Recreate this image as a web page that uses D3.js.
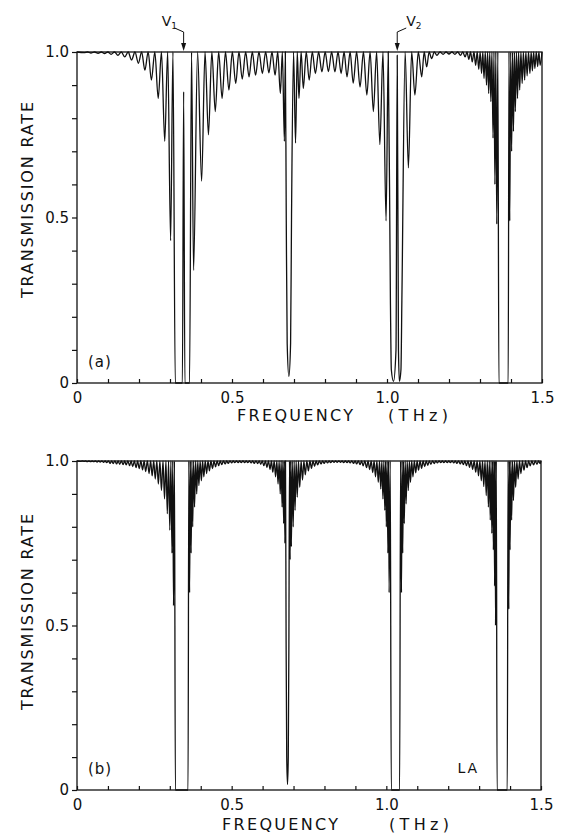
<!DOCTYPE html>
<html>
<head>
<meta charset="utf-8">
<script src="https://cdn.jsdelivr.net/npm/d3@7"></script>
<style>
body { margin: 0; background: #fff; }
svg text { font-family: "DejaVu Sans", sans-serif; fill: #111; }
.curve { fill: none; stroke: #111; stroke-width: 1.3; }
.frame { fill: none; stroke: #111; stroke-width: 1.3; }
.axis path { display: none; }
.axis line { stroke: #111; stroke-width: 1.2; }
.axis text { font-size: 15px; font-family: "DejaVu Sans", sans-serif; }
</style>
</head>
<body>
<div id="chart"></div>
<script>
var width = 568, height = 833;

// axis ticks (THz and transmission rate)
var xTicks = [0, 0.1, 0.2, 0.3, 0.4, 0.5, 0.6, 0.7, 0.8, 0.9, 1.0, 1.1, 1.2, 1.3, 1.4, 1.5];
var xLabels = {"0.0": "0", "0.5": "0.5", "1.0": "1.0", "1.5": "1.5"};
var yTicks = [0, 0.1, 0.2, 0.3, 0.4, 0.5, 0.6, 0.7, 0.8, 0.9, 1.0];
var yLabels = {"0.0": "0", "0.5": "0.5", "1.0": "1.0"};

// panel (a): fringe minima
var aDipF = [0.023, 0.045, 0.068, 0.089, 0.110, 0.132, 0.154, 0.176, 0.198, 0.219, 0.240, 0.262, 0.283, 0.302,
    0.376, 0.402, 0.424, 0.446, 0.468, 0.490, 0.512, 0.533, 0.555, 0.576, 0.598, 0.619, 0.639, 0.656, 0.669,
    0.705, 0.716, 0.730, 0.749, 0.769, 0.790, 0.811, 0.832, 0.852, 0.871, 0.891, 0.913, 0.935, 0.956, 0.977, 0.997,
    1.069, 1.090, 1.112, 1.128, 1.144, 1.161, 1.181, 1.200, 1.219, 1.237, 1.252, 1.264, 1.275, 1.286, 1.296, 1.305,
    1.313, 1.321, 1.328, 1.335, 1.342, 1.348, 1.354,
    1.396, 1.402, 1.408, 1.414, 1.421, 1.428, 1.436, 1.444, 1.452, 1.461, 1.469, 1.477, 1.486, 1.494];
var aDipT = [0.998, 0.997, 0.996, 0.995, 0.993, 0.990, 0.985, 0.976, 0.966, 0.945, 0.915, 0.86, 0.73, 0.43,
    0.34, 0.61, 0.75, 0.82, 0.86, 0.885, 0.905, 0.918, 0.925, 0.93, 0.935, 0.937, 0.93, 0.875, 0.73,
    0.725, 0.86, 0.89, 0.915, 0.935, 0.94, 0.941, 0.94, 0.935, 0.925, 0.906, 0.894, 0.87, 0.82, 0.72, 0.49,
    0.65, 0.87, 0.925, 0.955, 0.98, 0.99, 0.993, 0.994, 0.993, 0.99, 0.985, 0.978, 0.97, 0.96, 0.948, 0.935,
    0.92, 0.90, 0.875, 0.85, 0.74, 0.60, 0.48,
    0.49, 0.70, 0.76, 0.82, 0.86, 0.885, 0.905, 0.915, 0.928, 0.935, 0.943, 0.95, 0.956, 0.96];
// panel (a): stop bands, with the defect modes V1 and V2 inside
var aGapF = [[0.317, 0.340, 0.344, 0.348, 0.363],
    [0.675, 0.678, 0.6835, 0.689, 0.692],
    [1.011, 1.014, 1.021, 1.029, 1.033, 1.037, 1.040, 1.045, 1.048],
    [1.361, 1.391]];
var aGapT = [[0, 0, 0.88, 0, 0],
    [0.5, 0.12, 0.02, 0.12, 0.5],
    [0.25, 0.04, 0.005, 0.1, 0.99, 0.1, 0.005, 0.04, 0.25],
    [0, 0]];
var defectF = [0.344, 1.033];
var defectSub = ["1", "2"];

// panel (b): fringe minima
var bDipF = [0.012, 0.023, 0.033, 0.044, 0.054, 0.065, 0.075, 0.086, 0.096, 0.107, 0.117, 0.128, 0.138, 0.149,
    0.159, 0.170, 0.180, 0.191, 0.201, 0.212, 0.222, 0.233, 0.243, 0.253, 0.263, 0.273, 0.283, 0.292, 0.300, 0.307, 0.312,
    0.364, 0.369, 0.374, 0.380, 0.387, 0.394, 0.402, 0.410, 0.419, 0.428, 0.438, 0.448, 0.458, 0.468, 0.479, 0.489,
    0.500, 0.510, 0.521, 0.531, 0.542, 0.552, 0.563, 0.573, 0.584, 0.594, 0.604, 0.614, 0.624, 0.633, 0.642, 0.650,
    0.657, 0.663, 0.668, 0.672,
    0.689, 0.693, 0.699, 0.705, 0.712, 0.720, 0.729, 0.738, 0.748, 0.758, 0.768, 0.778, 0.789, 0.799, 0.810, 0.820,
    0.831, 0.841, 0.852, 0.862, 0.873, 0.883, 0.894, 0.904, 0.915, 0.925, 0.936, 0.946, 0.956, 0.965, 0.974, 0.982,
    0.989, 0.995, 1.000, 1.005, 1.009,
    1.049, 1.053, 1.058, 1.064, 1.071, 1.078, 1.086, 1.095, 1.104, 1.114, 1.124, 1.134, 1.144, 1.155, 1.165, 1.176,
    1.186, 1.197, 1.207, 1.218, 1.228, 1.239, 1.249, 1.259, 1.269, 1.279, 1.289, 1.298, 1.307, 1.315, 1.323, 1.330,
    1.336, 1.341, 1.346, 1.350, 1.353,
    1.396, 1.400, 1.405, 1.411, 1.418, 1.426, 1.435, 1.445, 1.455, 1.465, 1.476, 1.487, 1.497];
var bDipT = [0.999, 0.999, 0.998, 0.998, 0.998, 0.997, 0.997, 0.996, 0.995, 0.993, 0.992, 0.991, 0.990, 0.989,
    0.988, 0.986, 0.983, 0.980, 0.977, 0.973, 0.968, 0.962, 0.955, 0.945, 0.930, 0.910, 0.885, 0.840, 0.790, 0.720, 0.560,
    0.60, 0.72, 0.80, 0.86, 0.90, 0.925, 0.94, 0.952, 0.962, 0.970, 0.977, 0.982, 0.986, 0.989, 0.991, 0.993,
    0.994, 0.995, 0.995, 0.995, 0.995, 0.995, 0.994, 0.993, 0.992, 0.990, 0.986, 0.981, 0.975, 0.966, 0.952, 0.930,
    0.900, 0.860, 0.810, 0.750,
    0.70, 0.74, 0.80, 0.85, 0.89, 0.92, 0.942, 0.958, 0.970, 0.978, 0.984, 0.988, 0.991, 0.993, 0.994, 0.995,
    0.996, 0.996, 0.996, 0.995, 0.995, 0.994, 0.993, 0.991, 0.989, 0.985, 0.980, 0.974, 0.965, 0.952, 0.935, 0.915,
    0.885, 0.850, 0.800, 0.720, 0.600,
    0.60, 0.72, 0.81, 0.87, 0.91, 0.935, 0.952, 0.964, 0.972, 0.978, 0.983, 0.987, 0.990, 0.992, 0.994, 0.995,
    0.995, 0.995, 0.995, 0.994, 0.993, 0.991, 0.989, 0.986, 0.981, 0.975, 0.966, 0.955, 0.940, 0.922, 0.895, 0.860,
    0.820, 0.780, 0.730, 0.620, 0.500,
    0.55, 0.73, 0.82, 0.88, 0.92, 0.945, 0.962, 0.972, 0.980, 0.985, 0.988, 0.990, 0.992];
// panel (b): stop bands
var bGapF = [[0.318, 0.359], [0.676, 0.678, 0.6805, 0.683, 0.685], [1.016, 1.043], [1.358, 1.391]];
var bGapT = [[0, 0], [0.45, 0.1, 0.017, 0.1, 0.45], [0, 0], [0, 0]];

var svg = d3.select("#chart").append("svg")
    .attr("width", width)
    .attr("height", height);

// each minimum (or stop band) is one group; the curve climbs back to 1 between groups
function buildCurve(dipF, dipT, gapF, gapT) {
    var groups = dipF.map(function(f, i) { return [[f, dipT[i]]]; });
    gapF.forEach(function(g, i) {
        groups.push(g.map(function(f, j) { return [f, gapT[i][j]]; }));
    });
    groups.sort(function(a, b) { return a[0][0] - b[0][0]; });
    var pts = [[xTicks[0], 1]];
    groups.forEach(function(g, i) {
        if (i > 0) {
            var prev = groups[i-1];
            pts.push([(prev[prev.length-1][0] + g[0][0]) / 2, 1]);
        }
        pts = pts.concat(g);
    });
    pts.push([xTicks[xTicks.length-1], 1]);
    return pts;
}

function drawPanel(p) {
    var x = d3.scaleLinear().domain([0, 1.5]).range([p.left, p.right]);
    var y = d3.scaleLinear().domain([0, 1]).range([p.bottom, p.top]);
    var g = svg.append("g");

    var line = d3.line()
        .x(function(d) { return x(d[0]); })
        .y(function(d) { return y(d[1]); })
        .curve(d3.curveMonotoneX);

    g.append("path")
        .attr("class", "curve")
        .attr("d", line(buildCurve(p.dipF, p.dipT, p.gapF, p.gapT)));

    g.append("rect")
        .attr("class", "frame")
        .attr("x", x(0))
        .attr("y", y(1))
        .attr("width", x(1.5) - x(0))
        .attr("height", y(0) - y(1));

    g.append("g")
        .attr("class", "axis")
        .attr("transform", "translate(0," + y(0) + ")")
        .call(d3.axisBottom(x).tickValues(xTicks).tickSize(-4).tickPadding(9)
            .tickFormat(function(d) { return xLabels[d.toFixed(1)] || ""; }));

    g.append("g")
        .attr("class", "axis")
        .attr("transform", "translate(" + x(0) + ",0)")
        .call(d3.axisLeft(y).tickValues(yTicks).tickSize(5).tickPadding(3)
            .tickFormat(function(d) { return yLabels[d.toFixed(1)] || ""; }));

    // axis titles
    g.append("text")
        .attr("x", p.freqX).attr("y", p.titleY)
        .attr("textLength", 116).attr("lengthAdjust", "spacing")
        .style("font-size", "16px")
        .text("FREQUENCY");
    g.append("text")
        .attr("x", p.thzX).attr("y", p.titleY)
        .attr("textLength", 60).attr("lengthAdjust", "spacing")
        .style("font-size", "16px")
        .text("(THz)");
    g.append("text")
        .attr("transform", "translate(33," + p.yTitleMid + ") rotate(-90)")
        .attr("text-anchor", "middle")
        .attr("textLength", 196).attr("lengthAdjust", "spacing")
        .style("font-size", "16px")
        .text("TRANSMISSION RATE");

    g.append("text")
        .attr("x", x(0) + 11).attr("y", y(0) - 16)
        .style("font-size", "15px").style("letter-spacing", "1px")
        .text(p.tag);
    if (p.note) {
        g.append("text")
            .attr("x", x(1.23)).attr("y", y(0) - 17)
            .style("font-size", "14px").style("letter-spacing", "2px")
            .text(p.note);
    }
    return {x: x, y: y, g: g};
}

var pa = drawPanel({left: 77, right: 542, top: 52, bottom: 383,
    dipF: aDipF, dipT: aDipT, gapF: aGapF, gapT: aGapT,
    freqX: 237, thzX: 388, titleY: 421, yTitleMid: 200, tag: "(a)"});
drawPanel({left: 77, right: 541, top: 461, bottom: 790,
    dipF: bDipF, dipT: bDipT, gapF: bGapF, gapT: bGapT,
    freqX: 222, thzX: 389, titleY: 830, yTitleMid: 612, tag: "(b)", note: "LA"});

// defect-mode markers V1, V2 in panel (a)
var side = {"1": -1, "2": 1};
defectF.forEach(function(f, i) {
    var px = pa.x(f), py = pa.y(1), s = side[defectSub[i]];
    pa.g.append("path")
        .attr("d", "M" + px + "," + (py - 8) + "V" + (py - 20) + "L" + (px + s * 9) + "," + (py - 24))
        .attr("fill", "none").attr("stroke", "#111").attr("stroke-width", 1);
    pa.g.append("path")
        .attr("d", "M" + (px - 2.5) + "," + (py - 9) + "L" + (px + 2.5) + "," + (py - 9) + "L" + px + "," + (py - 1) + "Z")
        .attr("fill", "#111");
    var t = pa.g.append("text")
        .attr("x", px + s * (s < 0 ? 22 : 9)).attr("y", py - 26)
        .style("font-size", "14px");
    t.append("tspan").text("V");
    t.append("tspan").attr("dy", 3).style("font-size", "9px").text(defectSub[i]);
});
</script>
</body>
</html>
